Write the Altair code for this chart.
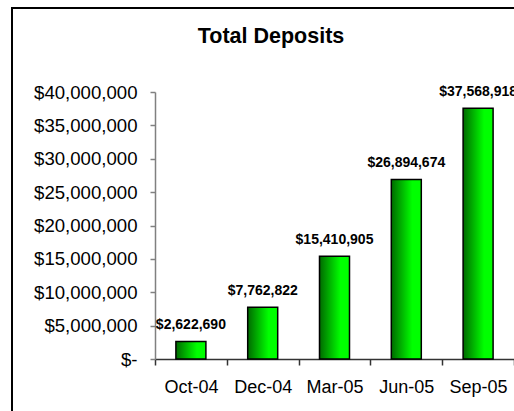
import altair as alt
import pandas as pd

periods = ["Oct-04", "Dec-04", "Mar-05", "Jun-05", "Sep-05"]
deposits = [2622690, 7762822, 15410905, 26894674, 37568918]
y_ticks = [0, 5000000, 10000000, 15000000, 20000000, 25000000, 30000000, 35000000, 40000000]
title_text = "Total Deposits"

df = pd.DataFrame({"period": periods, "value": deposits})
one = alt.Data(values=[{"t": title_text}])

FONT = "Liberation Sans"

xscale = alt.Scale(domain=periods, paddingInner=0, paddingOuter=0)
yscale = alt.Scale(domain=[0, 40000000], nice=False)

grad = alt.Gradient(
    gradient="linear",
    stops=[alt.GradientStop(color="#006a00", offset=0),
           alt.GradientStop(color="#00ff00", offset=0.7),
           alt.GradientStop(color="#00ff00", offset=1)],
    x1=0, x2=1, y1=0, y2=0,
)

xaxis = alt.Axis(labelAngle=0, labelFontSize=18, labelFont=FONT, labelColor="black",
                 tickBand="extent", tickSize=6, tickColor="#333333", tickWidth=1.5,
                 domainColor="#333333", domainWidth=1.5, labelPadding=13,
                 labelOverlap=False, labelFlush=False, labelBound=False, title=None)
yaxis = alt.Axis(values=y_ticks, grid=False, labelFontSize=18.6, labelFont=FONT,
                 labelColor="black", tickSize=5, tickColor="#808080", tickWidth=1.5,
                 domainColor="#808080", domainWidth=1.5, labelPadding=13,
                 labelOverlap=False, labelFlush=False, labelBound=False, title=None,
                 labelExpr="datum.value == 0 ? '$-\u00a0\u00a0\u00a0\u00a0' : format(datum.value, '$,')")

border = alt.Chart(one).mark_rect(filled=False, stroke="black", strokeWidth=2).encode(
    x=alt.value(-143), x2=alt.value(700), y=alt.value(-84), y2=alt.value(700)
)

bars = alt.Chart(df).mark_bar(width=30, color=grad, stroke="black", strokeWidth=1.5).encode(
    x=alt.X("period:N", scale=xscale, sort=periods, axis=xaxis),
    y=alt.Y("value:Q", scale=yscale, axis=yaxis),
)

labels = alt.Chart(df).transform_calculate(
    lbl="'$' + format(datum.value, ',')"
).mark_text(font=FONT, fontSize=14, fontWeight="bold", dy=-12, baseline="alphabetic",
            align="center", color="black").encode(
    x=alt.X("period:N", scale=xscale, sort=periods, axis=xaxis),
    y=alt.Y("value:Q", scale=yscale, axis=yaxis),
    text="lbl:N",
)

title = alt.Chart(one).mark_text(font=FONT, fontSize=21.5, fontWeight="bold", align="center",
                                 baseline="alphabetic", color="black").encode(
    x=alt.value(116), y=alt.value(-49), text="t:N"
)

chart = alt.layer(border, bars, labels, title).properties(
    width=359, height=267,
    padding={"left": 155, "top": 92, "right": 0, "bottom": 52},
    autosize=alt.AutoSizeParams(type="none"),
    background="white",
).configure_view(strokeWidth=0)

chart.save("out.html", embed_options={"renderer": "svg", "actions": False})
